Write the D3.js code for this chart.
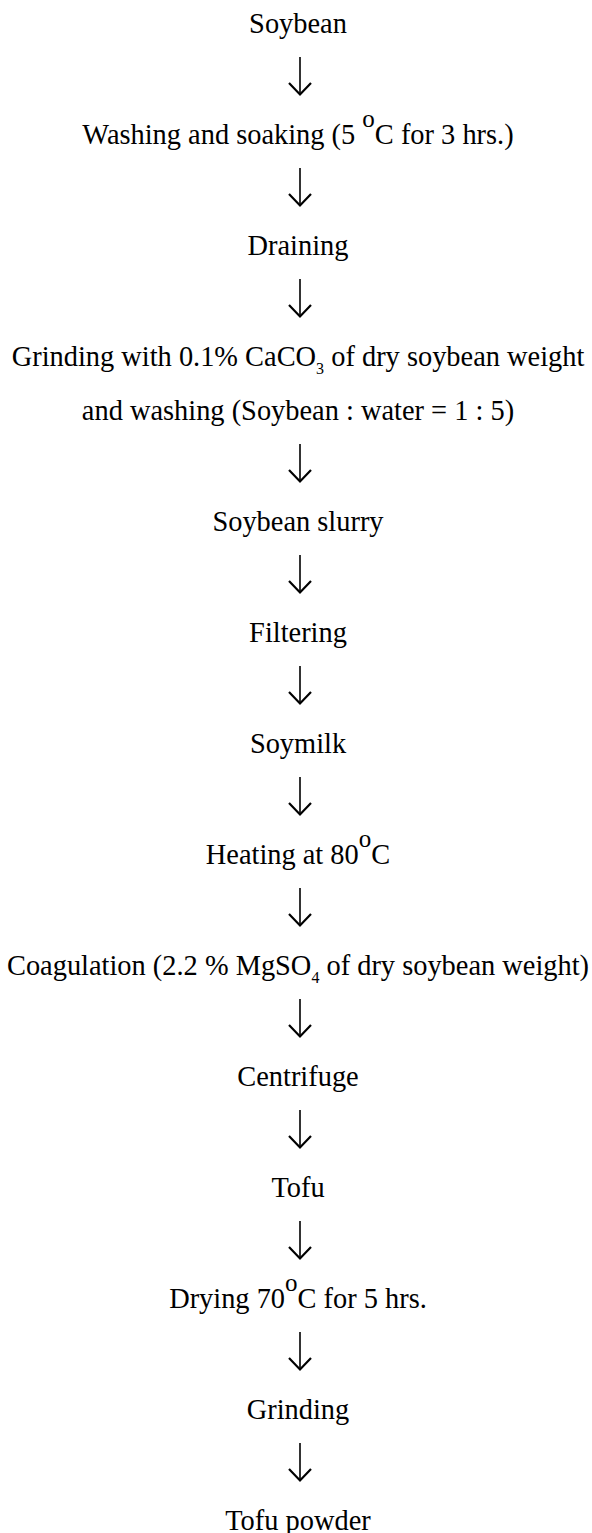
<!DOCTYPE html>
<html>
<head>
<meta charset="utf-8">
<script src="https://cdn.jsdelivr.net/npm/d3@7"></script>
<style>
  html, body { margin: 0; padding: 0; background: #fff; }
  svg { display: block; }
  text { font-family: "Liberation Serif", "Times New Roman", serif; white-space: pre; fill: #000; }
</style>
</head>
<body>
<svg id="chart" width="592" height="1533"></svg>
<script>
// Process steps: each step is a list of lines; each line is a list of [text, kind] segments.
const steps = [
  [[["Soybean", "n"]]],
  [[["Washing and soaking (5 ", "n"], ["o", "sup"], ["C for 3 hrs.)", "n"]]],
  [[["Draining", "n"]]],
  [[["Grinding with 0.1% CaCO", "n"], ["3", "sub"], [" of dry soybean weight", "n"]],
   [["and washing (Soybean : water = 1 : 5)", "n"]]],
  [[["Soybean slurry", "n"]]],
  [[["Filtering", "n"]]],
  [[["Soymilk", "n"]]],
  [[["Heating at 80", "n"], ["o", "sup"], ["C", "n"]]],
  [[["Coagulation (2.2 % MgSO", "n"], ["4", "sub"], [" of dry soybean weight)", "n"]]],
  [[["Centrifuge", "n"]]],
  [[["Tofu", "n"]]],
  [[["Drying 70", "n"], ["o", "sup"], ["C for 5 hrs.", "n"]]],
  [[["Grinding", "n"]]],
  [[["Tofu powder", "n"]]]
];

const W = 592, H = 1533;
const cx = 298;
const stepGap = 111, lineGap = 54;
const fontSize = 28.4;

const svg = d3.select("#chart");

// step index -> baseline of its first line (before extra-line offsets)
const y = d3.scaleLinear().domain([0, steps.length - 1]).range([33, 33 + (steps.length - 1) * stepGap]);

let extra = 0;
const lines = [];
const stepEnds = [];
steps.forEach((step, i) => {
  step.forEach((segs, j) => {
    if (j > 0) extra += lineGap;
    lines.push({ segs, base: y(i) + extra });
  });
  stepEnds.push(y(i) + extra);
});

const shift = { sup: -17, sub: 8, n: 0 };
const size = { sup: 25, sub: 16, n: fontSize };

const t = svg.selectAll("text.step").data(lines).join("text")
  .attr("class", "step")
  .attr("x", cx)
  .attr("y", d => d.base)
  .attr("text-anchor", "middle")
  .attr("font-size", fontSize);

t.each(function(d) {
  let cur = 0;
  const sel = d3.select(this);
  d.segs.forEach(([txt, kind]) => {
    const target = shift[kind];
    sel.append("tspan")
      .attr("dy", target - cur)
      .attr("font-size", size[kind])
      .text(txt);
    cur = target;
  });
});

// Arrows between consecutive steps
const arrows = stepEnds.slice(0, -1);
const ax = 300;
const g = svg.append("g").attr("stroke", "#000").attr("fill", "none");
g.selectAll("line.shaft").data(arrows).join("line")
  .attr("x1", ax).attr("x2", ax)
  .attr("y1", d => d + 24).attr("y2", d => d + 61)
  .attr("stroke-width", 1.6);
g.selectAll("path.head").data(arrows).join("path")
  .attr("d", d => `M${ax - 11},${d + 50} L${ax},${d + 61.5} L${ax + 11},${d + 50}`)
  .attr("stroke-width", 2.2)
  .attr("stroke-linejoin", "miter");
</script>
</body>
</html>
